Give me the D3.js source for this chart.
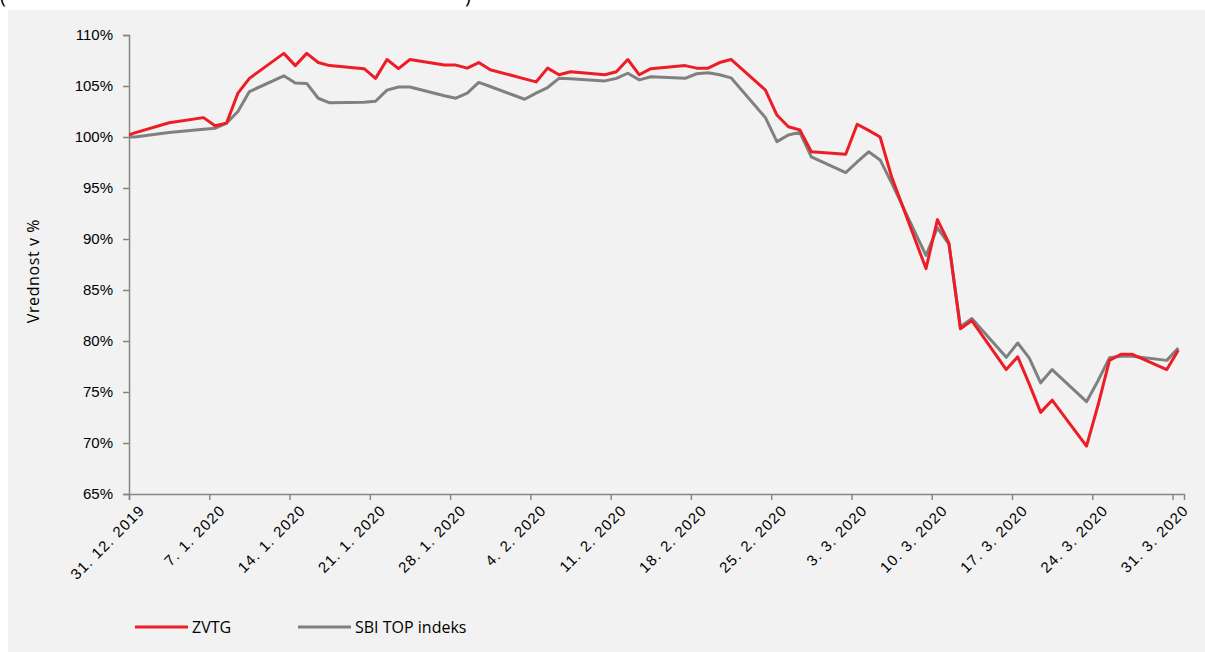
<!DOCTYPE html>
<html>
<head>
<meta charset="utf-8">
<script src="https://cdn.jsdelivr.net/npm/d3@7"></script>
<style>
  body { margin: 0; background: #fff; }
  svg { display: block; font-family: "Open Sans", "Noto Sans", sans-serif; }
</style>
</head>
<body>
<div id="vis"></div>
<script>
// trading days (d.m.yyyy)
var dates = [
  "30.12.2019","31.12.2019",
  "3.1.2020","6.1.2020","7.1.2020","8.1.2020","9.1.2020","10.1.2020",
  "13.1.2020","14.1.2020","15.1.2020","16.1.2020","17.1.2020",
  "20.1.2020","21.1.2020","22.1.2020","23.1.2020","24.1.2020",
  "27.1.2020","28.1.2020","29.1.2020","30.1.2020","31.1.2020",
  "3.2.2020","4.2.2020","5.2.2020","6.2.2020","7.2.2020",
  "10.2.2020","11.2.2020","12.2.2020","13.2.2020","14.2.2020",
  "17.2.2020","18.2.2020","19.2.2020","20.2.2020","21.2.2020",
  "24.2.2020","25.2.2020","26.2.2020","27.2.2020","28.2.2020",
  "2.3.2020","3.3.2020","4.3.2020","5.3.2020","6.3.2020",
  "9.3.2020","10.3.2020","11.3.2020","12.3.2020","13.3.2020",
  "16.3.2020","17.3.2020","18.3.2020","19.3.2020","20.3.2020",
  "23.3.2020","24.3.2020","25.3.2020","26.3.2020","27.3.2020",
  "30.3.2020","31.3.2020"
];

// ZVTG, % of value on 31.12.2019
var zvtg = [
  100.0, 100.4,
  101.4, 101.9, 101.1, 101.35, 104.3, 105.75,
  108.2, 107.0, 108.2, 107.3, 107.0,
  106.7, 105.75, 107.6, 106.7, 107.6,
  107.05, 107.05, 106.75, 107.3, 106.6,
  105.7, 105.4, 106.75, 106.1, 106.4,
  106.1, 106.4, 107.6, 106.1, 106.7,
  107.0, 106.75, 106.75, 107.3, 107.6,
  104.6, 102.15, 101.0, 100.7, 98.55,
  98.3, 101.25, 100.65, 100.0, 96.1,
  87.1, 91.9, 89.6, 81.2, 82.0,
  77.2, 78.45, 75.8, 73.0, 74.2,
  69.7, 73.7, 78.1, 78.7, 78.7,
  77.2, 79.1
];

// SBI TOP indeks
var sbitop = [
  100.0, 100.0,
  100.45, 100.75, 100.85, 101.35, 102.5, 104.45,
  106.0, 105.3, 105.25, 103.8, 103.35,
  103.4, 103.5, 104.6, 104.9, 104.9,
  104.05, 103.8, 104.3, 105.35, 104.95,
  103.7, 104.3, 104.85, 105.75, 105.7,
  105.5, 105.75, 106.25, 105.6, 105.9,
  105.75, 106.2, 106.3, 106.1, 105.8,
  101.9, 99.55, 100.2, 100.45, 98.05,
  96.5, 97.55, 98.55, 97.75, 95.5,
  88.4, 91.1, 89.5, 81.4, 82.2,
  78.4, 79.8, 78.35, 75.9, 77.2,
  74.05, 76.1, 78.35, 78.5, 78.5,
  78.1, 79.3
];

var seriesNames = ["ZVTG", "SBI TOP indeks"];
var seriesColors = ["#ee1c25", "#808080"];
var yTicks = [65, 70, 75, 80, 85, 90, 95, 100, 105, 110];

var W = 1205, H = 652;
var parse = d3.timeParse("%d.%m.%Y");
var fmtTick = function(d){ return d.getDate() + ". " + (d.getMonth()+1) + ". " + d.getFullYear(); };

var svg = d3.select("#vis").append("svg").attr("width", W).attr("height", H);

// bottom of the title line, cut off by the top edge as in the source image
svg.append("text").attr("x", 0).attr("y", 3).attr("font-size", 20).attr("fill", "#000").text("(");
svg.append("text").attr("x", 465).attr("y", 3).attr("font-size", 20).attr("fill", "#000").text(")");

svg.append("rect").attr("x", 8).attr("y", 10).attr("width", W - 8).attr("height", H - 10).attr("fill", "#f2f2f2");

var x = d3.scaleTime()
  .domain([parse("31.12.2019"), parse("1.4.2020")])
  .range([129, 1184]);
var y = d3.scaleLinear().domain([65, 110]).range([494, 35]);

// points sit in the middle of their day
var half = 12 * 3600 * 1000;
var rows = dates.map(function(d, i){
  return { date: new Date(parse(d).getTime() + half), v: [zvtg[i], sbitop[i]] };
});

svg.append("clipPath").attr("id", "plot")
  .append("rect").attr("x", 129).attr("y", 0).attr("width", 1184 - 129).attr("height", 494);

// y axis
var yAxis = svg.append("g").attr("transform", "translate(129,0)")
  .call(d3.axisLeft(y).tickValues(yTicks).tickSize(6).tickPadding(10)
    .tickFormat(function(d){ return d + "%"; }));
yAxis.selectAll("text").attr("font-size", 15).attr("fill", "#000");

// x axis, weekly ticks
var weekTicks = d3.range(0, 14).map(function(i){ return d3.timeDay.offset(parse("31.12.2019"), i * 7); });
var xAxis = svg.append("g").attr("transform", "translate(0,494)")
  .call(d3.axisBottom(x).tickValues(weekTicks).tickSize(6).tickFormat(fmtTick));
xAxis.selectAll("text")
  .attr("font-size", 15).attr("fill", "#000")
  .attr("letter-spacing", 1.2)
  .attr("text-anchor", "end")
  .attr("dx", 0).attr("dy", 0)
  .attr("transform", "translate(10,11) rotate(-45)");

svg.selectAll(".domain, .tick line").attr("stroke", "#868686").attr("stroke-width", 1.5);

// y title
svg.append("text")
  .attr("transform", "translate(39,271) rotate(-90)")
  .attr("text-anchor", "middle").attr("font-size", 16).attr("fill", "#000")
  .attr("letter-spacing", 0.6)
  .text("Vrednost v %");

// lines (grey under red)
var plot = svg.append("g").attr("clip-path", "url(#plot)");
[1, 0].forEach(function(k){
  var line = d3.line()
    .x(function(d){ return x(d.date); })
    .y(function(d){ return y(d.v[k]); });
  plot.append("path")
    .datum(rows)
    .attr("d", line)
    .attr("fill", "none")
    .attr("stroke", seriesColors[k])
    .attr("stroke-width", 3)
    .attr("stroke-linejoin", "round");
});

// legend
var legX = [135, 298];
seriesNames.forEach(function(n, i){
  var g = svg.append("g").attr("transform", "translate(" + legX[i] + ",627)");
  g.append("line").attr("x1", 0).attr("x2", 53).attr("stroke", seriesColors[i]).attr("stroke-width", 3);
  g.append("text").attr("x", 57).attr("y", 6).attr("font-size", 16).attr("fill", "#000").text(n);
});
</script>
</body>
</html>
